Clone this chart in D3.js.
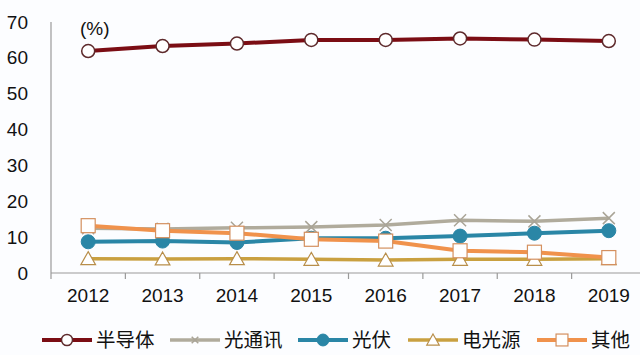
<!DOCTYPE html>
<html><head><meta charset="utf-8">
<script src="https://cdn.jsdelivr.net/npm/d3@7/dist/d3.min.js"></script>
<style>
html,body{margin:0;padding:0;background:#fcfdff;}
svg{display:block;font-family:"Liberation Sans",Arial,sans-serif;}
</style></head><body>
<svg id="c" width="640" height="355"></svg>
<script>
const years = ["2012","2013","2014","2015","2016","2017","2018","2019"];
const semiconductor = [61.9, 63.3, 64.0, 65.0, 65.0, 65.4, 65.1, 64.7];
const opticalComm = [12.5, 12.3, 12.6, 12.8, 13.4, 14.7, 14.4, 15.3];
const photovoltaic = [8.7, 8.9, 8.5, 9.7, 9.7, 10.3, 11.1, 11.8];
const electricLight = [4.0, 3.9, 4.0, 3.8, 3.6, 3.8, 3.8, 4.0];
const others = [13.2, 11.8, 11.1, 9.4, 8.9, 6.2, 5.8, 4.3];
const yTicks = [0, 10, 20, 30, 40, 50, 60, 70];
const seriesNames = ["半导体", "光通讯", "光伏", "电光源", "其他"];

const series = [
  {name: seriesNames[0], values: semiconductor, color: "#7b0d14", width: 4, marker: "circle", mfill: "#fff", mstroke: "#5e2a2c"},
  {name: seriesNames[1], values: opticalComm, color: "#b0ab9c", width: 3.5, marker: "x", mfill: "none", mstroke: "#a9a497"},
  {name: seriesNames[2], values: photovoltaic, color: "#2a86a6", width: 4, marker: "dot", mfill: "#2a86a6", mstroke: "#2a86a6"},
  {name: seriesNames[3], values: electricLight, color: "#c9a040", width: 3.5, marker: "tri", mfill: "#fff", mstroke: "#b88e4a"},
  {name: seriesNames[4], values: others, color: "#f0924c", width: 4, marker: "sq", mfill: "#fff", mstroke: "#d4905f"}
];

const svg = d3.select("#c");
const x = d3.scaleBand().domain(years).range([51, 646]);
const y = d3.scaleLinear().domain([0, 70]).range([273, 22]);

// axes
const xAxis = svg.append("g").attr("transform", "translate(0,273)");
xAxis.append("line").attr("x1", 51).attr("x2", 646).attr("stroke", "#9a9a9a").attr("stroke-width", 1.2);
xAxis.selectAll("line.tk").data(years.concat(["end"])).join("line").attr("class","tk")
  .attr("x1", (d,i) => 51 + i * x.bandwidth()).attr("x2", (d,i) => 51 + i * x.bandwidth())
  .attr("y1", 0).attr("y2", 6).attr("stroke", "#9a9a9a").attr("stroke-width", 1.2);
xAxis.selectAll("text").data(years).join("text")
  .attr("x", d => x(d) + x.bandwidth()/2).attr("y", 29)
  .attr("text-anchor", "middle").attr("font-size", 19).attr("fill", "#111").text(d => d);

svg.append("line").attr("x1", 51).attr("x2", 51).attr("y1", 22).attr("y2", 273)
  .attr("stroke", "#9a9a9a").attr("stroke-width", 1.2);
svg.append("g").selectAll("text").data(yTicks).join("text")
  .attr("x", 28).attr("y", d => y(d) + 6.5).attr("text-anchor", "end")
  .attr("font-size", 19).attr("fill", "#111").text(d => d);

svg.append("text").attr("x", 80).attr("y", 35).attr("font-size", 19).attr("fill", "#111").text("(%)");

function drawMarker(g, type, cx, cy, s, scale) {
  const k = scale || 1;
  if (type === "circle") {
    g.append("circle").attr("cx", cx).attr("cy", cy).attr("r", 6.5*k).attr("fill", s.mfill).attr("stroke", s.mstroke).attr("stroke-width", 1.5);
  } else if (type === "dot") {
    g.append("circle").attr("cx", cx).attr("cy", cy).attr("r", 7*k).attr("fill", s.mfill).attr("stroke", s.mstroke).attr("stroke-width", 1);
  } else if (type === "x") {
    const h = 6*k;
    g.append("path").attr("d", `M${cx-h},${cy-h}L${cx+h},${cy+h}M${cx-h},${cy+h}L${cx+h},${cy-h}`)
      .attr("stroke", s.mstroke).attr("stroke-width", 1.5).attr("fill", "none");
  } else if (type === "tri") {
    const h = 7*k;
    g.append("path").attr("d", `M${cx},${cy-h}L${cx+h*1.05},${cy+h*0.85}L${cx-h*1.05},${cy+h*0.85}Z`)
      .attr("fill", s.mfill).attr("stroke", s.mstroke).attr("stroke-width", 1.2);
  } else if (type === "sq") {
    const h = 7*k;
    g.append("rect").attr("x", cx-h).attr("y", cy-h).attr("width", 2*h).attr("height", 2*h)
      .attr("fill", s.mfill).attr("stroke", s.mstroke).attr("stroke-width", 1.2);
  }
}

const line = d3.line().x((d,i) => x(years[i]) + x.bandwidth()/2).y(d => y(d));
series.forEach(s => {
  const g = svg.append("g");
  g.append("path").attr("d", line(s.values)).attr("fill", "none")
    .attr("stroke", s.color).attr("stroke-width", s.width).attr("stroke-linejoin", "round");
  s.values.forEach((v,i) => drawMarker(g, s.marker, x(years[i]) + x.bandwidth()/2, y(v), s));
});

// legend
const legX = [42, 170, 298, 408, 537];
const legY = 340;
series.forEach((s,i) => {
  const g = svg.append("g");
  g.append("line").attr("x1", legX[i]).attr("x2", legX[i] + 50).attr("y1", legY).attr("y2", legY)
    .attr("stroke", s.color).attr("stroke-width", s.width);
  drawMarker(g, s.marker, legX[i] + 25, legY, s, s.marker === "x" ? 0.55 : 0.85);
  g.append("text").attr("x", legX[i] + 54).attr("y", legY + 7).attr("font-size", 19.5)
    .attr("font-family", "'Noto Sans CJK SC', sans-serif").attr("fill", "#111").text(s.name);
});
</script>
</body></html>
